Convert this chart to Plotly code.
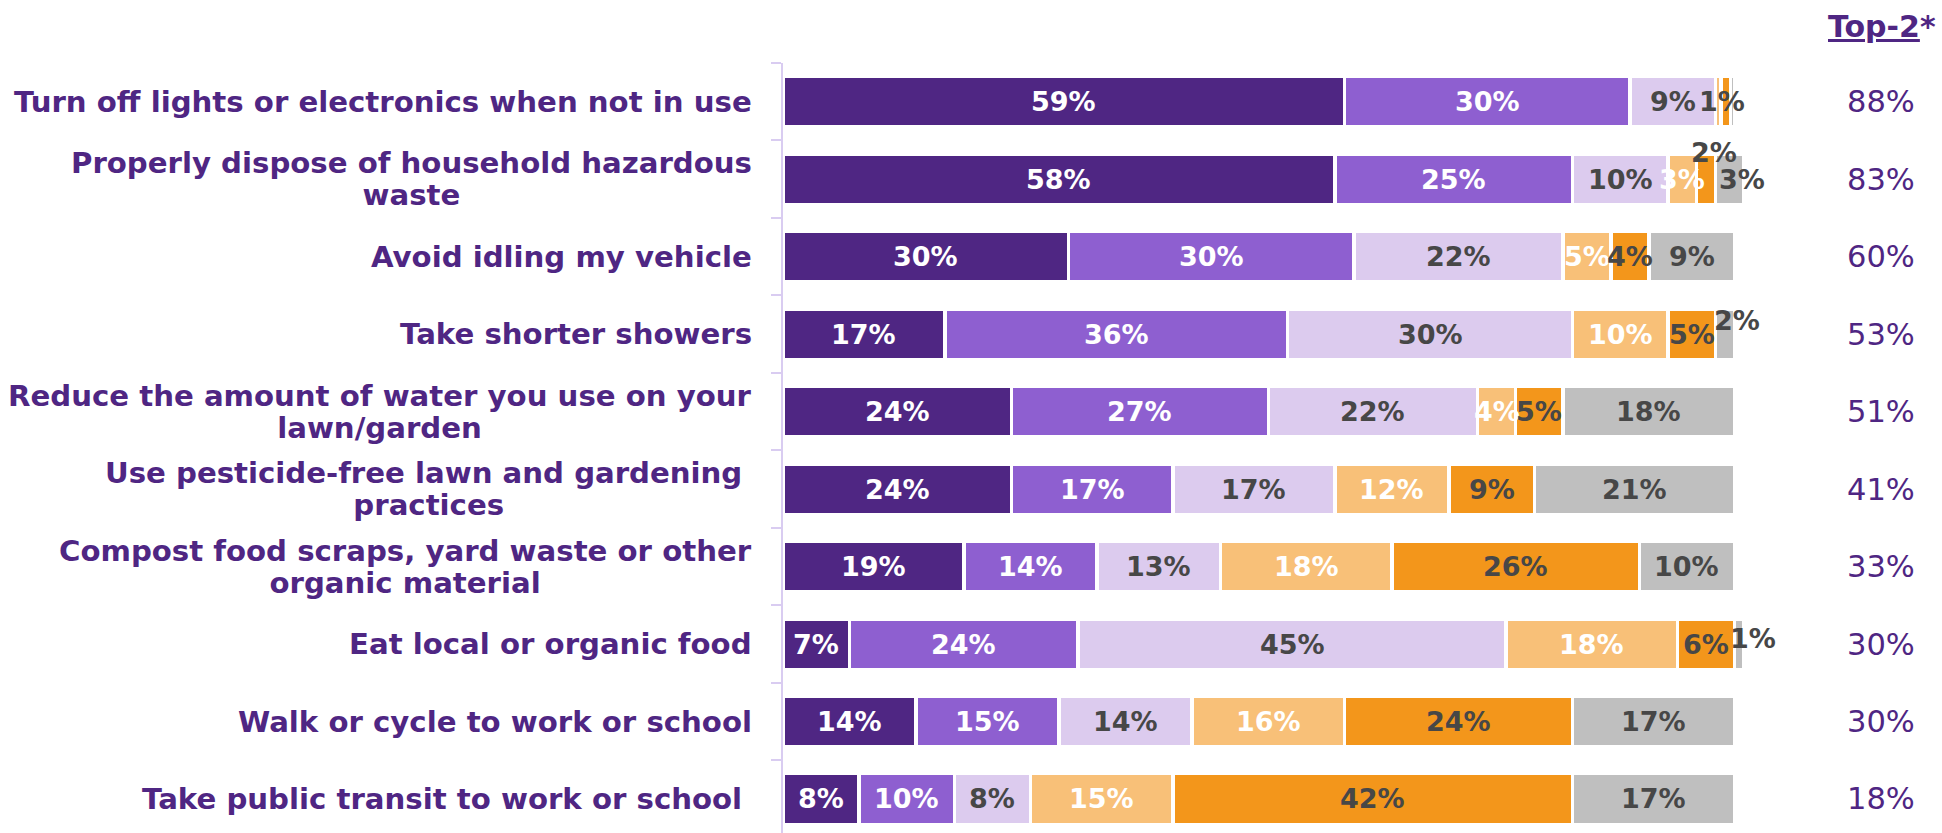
import plotly.graph_objects as go

# Activities (top to bottom); "<br>" marks a line break in the row label
categories = [
    "Turn off lights or electronics when not in use",
    "Properly dispose of household hazardous<br>waste",
    "Avoid idling my vehicle",
    "Take shorter showers",
    "Reduce the amount of water you use on your<br>lawn/garden",
    "Use pesticide-free lawn and gardening\u00a0<br>practices",
    "Compost food scraps, yard waste or other<br>organic material",
    "Eat local or organic food",
    "Walk or cycle to work or school",
    "Take public transit to work or school\u00a0",
]

# Response shares (%) per activity, one list per response level
already_regularly = [59, 58, 30, 17, 24, 24, 19, 7, 14, 8]
already_sometimes = [30, 25, 30, 36, 27, 17, 14, 24, 15, 10]
could_do_more = [9, 10, 22, 30, 22, 17, 13, 45, 14, 8]
unlikely = [0.6, 3, 5, 10, 4, 12, 18, 18, 16, 15]
not_at_all = [1, 2, 4, 5, 5, 9, 26, 6, 24, 42]
not_applicable = [0.4, 3, 9, 2, 18, 21, 10, 1, 17, 17]

# Top-2 box totals shown in the right-hand column
top2 = [88, 83, 60, 53, 51, 41, 33, 30, 30, 18]

series = [already_regularly, already_sometimes, could_do_more,
          unlikely, not_at_all, not_applicable]
series_names = ["Already do regularly", "Already do sometimes", "Could do more",
                "Unlikely", "Not at all", "Not applicable"]
colors = ["#4F2683", "#8E5FD0", "#DCCBEE", "#F8C078", "#F3961B", "#BFBFBF"]
text_colors = ["#FFFFFF", "#FFFFFF", "#474747", "#FFFFFF", "#474747", "#474747"]

# segments whose value label is not printed: (series index, row index)
hidden_labels = {(3, 0), (5, 0)}
# nudges (px) for labels of thin segments: (series, row) -> (dx, dy)
label_nudge = {
    (4, 0): (-4, 0),
    (4, 1): (8, 27),
    (5, 1): (12, 0),
    (5, 3): (12, 14),
    (5, 7): (14, 6),
}

PURPLE = "#4F2683"
AXIS = "#D9CCF1"
FONT = "DejaVu Sans"
LABEL_SIZE = 29.2   # row label glyph size
LABEL_BASE = 24.6   # base size -> 1.3 em line pitch of ~32 px

rows = list(range(len(categories)))

fig = go.Figure()
for vals, name, col in zip(series, series_names, colors):
    fig.add_trace(go.Bar(
        x=vals, y=rows, orientation="h", name=name,
        marker=dict(color=col, line=dict(color="white", width=3.5)),
        width=0.652, hoverinfo="skip", textposition="none",
    ))

annotations = []
# value labels centred on each stacked segment
for r in rows:
    start = 0.0
    for s, vals in enumerate(series):
        v = vals[r]
        if (s, r) not in hidden_labels:
            dx, dy = label_nudge.get((s, r), (0, 0))
            annotations.append(dict(
                x=start + v / 2, y=r, xref="x", yref="y",
                text=f"<b>{v:g}%</b>", showarrow=False,
                xshift=dx, yshift=dy,
                font=dict(family=FONT, size=27, color=text_colors[s]),
            ))
        start += v

# row labels: right-aligned block, lines centred on each other
for r, cat in enumerate(categories):
    lines = cat.split("<br>")
    text = "<br>".join(
        f"<span style='font-size:{LABEL_SIZE}px'><b>{ln}</b></span>" for ln in lines
    )
    annotations.append(dict(
        x=0, y=r, xref="paper", yref="y", xanchor="right", yanchor="middle",
        xshift=-29, align="center", text=text, showarrow=False,
        font=dict(family=FONT, size=LABEL_BASE, color=PURPLE),
    ))

# Top-2 column
for r, v in enumerate(top2):
    annotations.append(dict(
        x=1, y=r, xref="paper", yref="y", xanchor="center",
        xshift=137, text=f"{v}%", showarrow=False,
        font=dict(family=FONT, size=30.5, color=PURPLE),
    ))
annotations.append(dict(
    x=1, y=1, xref="paper", yref="paper", xanchor="center", yanchor="middle",
    xshift=138, yshift=37, text="<b><u>Top-2</u>*</b>", showarrow=False,
    font=dict(family=FONT, size=30, color=PURPLE),
))

fig.update_layout(
    width=1942, height=833,
    margin=dict(l=783, r=198, t=63, b=0),
    barmode="stack",
    plot_bgcolor="white", paper_bgcolor="white",
    showlegend=False,
    annotations=annotations,
    xaxis=dict(range=[0, 101], visible=False, fixedrange=True),
    yaxis=dict(
        range=[9.439, -0.5],
        tickvals=[i - 0.5 for i in range(len(categories) + 1)],
        ticktext=[""] * (len(categories) + 1),
        ticks="outside", ticklen=10, tickcolor=AXIS, tickwidth=1.5,
        showline=True, linecolor=AXIS, linewidth=1.5,
        showgrid=False, zeroline=False, fixedrange=True,
    ),
)

fig.write_html("out.html")
